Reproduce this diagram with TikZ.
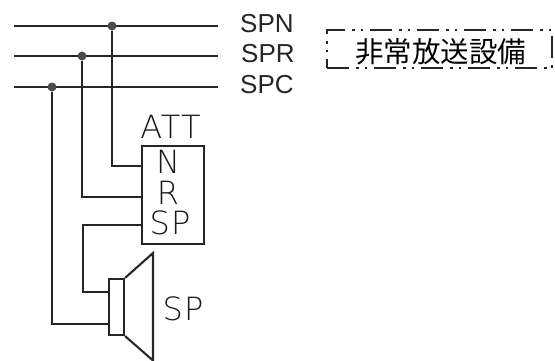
\documentclass[tikz,border=0pt]{standalone}
\usepackage{fontspec}
\setmainfont{Liberation Sans}
\newfontfamily\thinfont[LetterSpace=4]{DejaVu Sans ExtraLight}
\newfontfamily\cjk{Noto Sans CJK JP}
\begin{document}
\begin{tikzpicture}[x=1pt,y=-1pt,
  wire/.style={draw=black!85,line width=2.1pt},
  dotj/.style={circle,fill=black!70,inner sep=0pt,minimum size=9pt},
  busl/.style={font=\fontsize{26}{26}\selectfont,text=black!85,anchor=west,inner sep=0pt},
  thinl/.style={font=\thinfont\fontsize{32}{32}\selectfont,text=black!90,inner sep=0pt},
  blockbox/.style={draw=black!85,line width=2.1pt,inner sep=0pt}]
\useasboundingbox (0,0) rectangle (555,360);
\coordinate (n0) at (14,26); \coordinate (n1) at (218,26);
\coordinate (r0) at (14,56); \coordinate (r1) at (218,56);
\coordinate (c0) at (14,87); \coordinate (c1) at (218,87);
\draw[wire] (n0) -- (n1);
\draw[wire] (r0) -- (r1);
\draw[wire] (c0) -- (c1);
\node[dotj] (jn) at (112,26) {};
\node[dotj] (jr) at (82,56) {};
\node[dotj] (jc) at (52,87) {};
\node[busl] (spn) at (240,24) {SPN};
\node[busl] (spr) at (241,54) {SPR};
\node[busl] (spc) at (240,85) {SPC};
\node[blockbox,minimum width=62pt,minimum height=98pt] (att) at (173,195) {};
\node[thinl] (attl) at (170.5,127) {ATT};
\node[thinl] (ln) at (168,161.5) {N};
\node[thinl] (lr) at (168,193) {R};
\node[thinl] (lsp) at (170,222.5) {SP};
\coordinate (an) at (att.west |- 0,166);
\coordinate (ar) at (att.west |- 0,197);
\coordinate (as) at (att.west |- 0,225);
\draw[wire] (jn) |- (an);
\draw[wire] (jr) |- (ar);
\node[blockbox,minimum width=15pt,minimum height=56pt] (coil) at (116.5,307) {};
\coordinate (ct) at (153,253); \coordinate (cb) at (153,360.5);
\draw[wire,line join=miter] (coil.north east) -- (ct) -- (cb) -- (coil.south east);
\coordinate (sa) at (83,225); \coordinate (sb) at (83,292);
\draw[wire] (as) -- (sa) -- (sb) -- (coil.west |- sb);
\coordinate (cc) at (52,324);
\draw[wire] (jc) -- (cc) -- (coil.west |- cc);
\node[thinl] (spk) at (183,308.5) {SP};
\node[draw=black!85,line width=2.1pt,dash pattern=on 22pt off 7pt on 2.5pt off 6pt on 2.5pt off 7pt,minimum width=225pt,minimum height=38pt,inner sep=0pt] (fr) at (439.5,49) {};
\node[font=\cjk\fontsize{28.5}{28.5}\selectfont,text=black,inner sep=0pt] (eq) at (440.5,52) {非常放送設備};
\end{tikzpicture}
\end{document}
